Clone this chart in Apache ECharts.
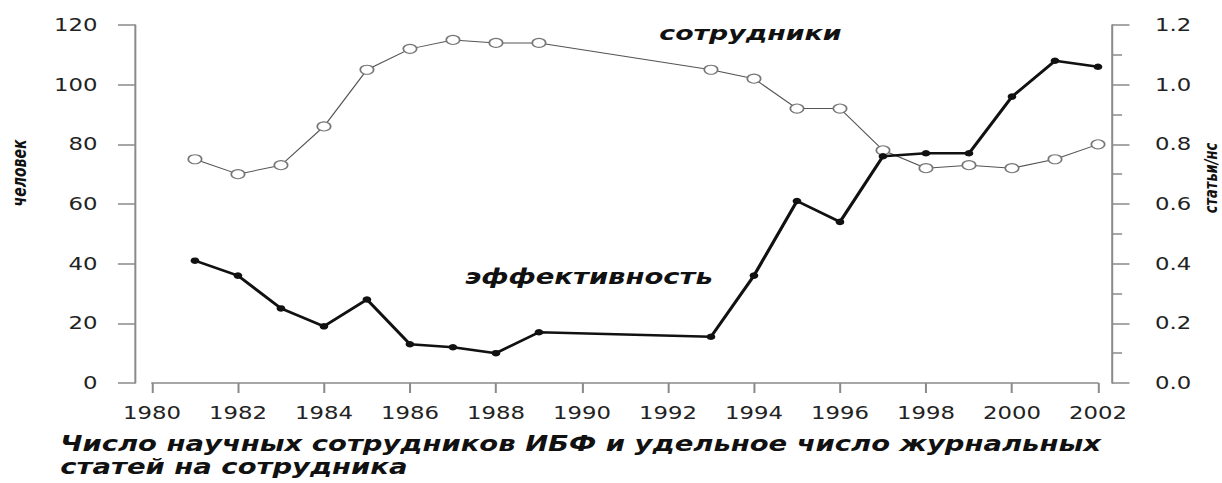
<!DOCTYPE html>
<html>
<head>
<meta charset="utf-8">
<script src="https://cdn.jsdelivr.net/npm/echarts@6/dist/echarts.min.js"></script>
<style>
  html, body { margin: 0; padding: 0; background: #fff; overflow: hidden; }
  /* the original picture is stretched sideways, so the chart is drawn narrow and scaled */
  #chart { width: 912px; height: 483px; transform: scaleX(1.34); transform-origin: 0 0; }
</style>
</head>
<body>
<div id="chart"></div>
<script>
// data
const years = [1981, 1982, 1983, 1984, 1985, 1986, 1987, 1988, 1989, 1993, 1994, 1995, 1996, 1997, 1998, 1999, 2000, 2001, 2002];
const staff = [75, 70, 73, 86, 105, 112, 115, 114, 114, 105, 102, 92, 92, 78, 72, 73, 72, 75, 80];
const efficiency = [0.41, 0.36, 0.25, 0.19, 0.28, 0.13, 0.12, 0.10, 0.17, 0.155, 0.36, 0.61, 0.54, 0.76, 0.77, 0.77, 0.96, 1.08, 1.06];

const staffLabel = 'сотрудники';
const effLabel = 'эффективность';
const leftName = 'человек';
const rightName = 'статьи/нс';
const caption1 = 'Число научных сотрудников ИБФ и удельное число журнальных';
const caption2 = 'статей на сотрудника';

const staffData = years.map((y, i) => [y, staff[i]]);
const effData = years.map((y, i) => [y, efficiency[i]]);

const axisGray = '#8a8a8a';
const labelFont = { fontFamily: 'DejaVu Sans', fontSize: 17, color: '#222' };
const italicBold = { fontFamily: 'DejaVu Sans', fontStyle: 'italic', fontWeight: 'bold', fill: '#111' };

const chart = echarts.init(document.getElementById('chart'), null, { renderer: 'svg' });

chart.setOption({
    animation: false,
    grid: { left: 113.4, right: 92.6, top: 25, bottom: 100 },
    xAxis: {
        type: 'value',
        min: 1980,
        max: 2002,
        interval: 2,
        axisLine: { show: true, lineStyle: { color: axisGray, width: 1.5 } },
        axisTick: { show: true, inside: false, length: 10, lineStyle: { color: axisGray, width: 1.5 } },
        axisLabel: { margin: 22, formatter: v => String(v), ...labelFont },
        splitLine: { show: false }
    },
    yAxis: [
        {
            type: 'value',
            position: 'left',
            offset: 12.7,
            min: 0,
            max: 120,
            interval: 20,
            axisLine: { show: true, lineStyle: { color: axisGray, width: 1.5 } },
            axisTick: { show: true, length: 12.7, lineStyle: { color: axisGray, width: 1.5 } },
            axisLabel: { margin: 28, ...labelFont },
            splitLine: { show: false }
        },
        {
            type: 'value',
            position: 'right',
            offset: 10.5,
            min: 0,
            max: 1.2,
            interval: 0.2,
            axisLine: { show: true, lineStyle: { color: axisGray, width: 1.5 } },
            axisTick: { show: true, length: 13, lineStyle: { color: axisGray, width: 1.5 } },
            minorTick: { show: true, splitNumber: 2, length: 7.5, lineStyle: { color: axisGray, width: 1.5 } },
            axisLabel: { margin: 32, formatter: v => v.toFixed(1), ...labelFont },
            splitLine: { show: false }
        }
    ],
    series: [
        {
            name: staffLabel,
            type: 'line',
            yAxisIndex: 0,
            data: staffData,
            symbol: 'circle',
            symbolSize: [10, 9],
            lineStyle: { color: '#555', width: 1 },
            itemStyle: { color: '#fff', borderColor: '#777', borderWidth: 1.2 }
        },
        {
            name: effLabel,
            type: 'line',
            yAxisIndex: 1,
            data: effData,
            symbol: 'circle',
            symbolSize: 6.5,
            lineStyle: { color: '#111', width: 2.5 },
            itemStyle: { color: '#111' }
        }
    ],
    graphic: [
        { type: 'text', x: 492, y: 33, style: { text: staffLabel, fontSize: 20, textVerticalAlign: 'middle', ...italicBold } },
        { type: 'text', x: 347, y: 277, style: { text: effLabel, fontSize: 20.5, textVerticalAlign: 'middle', ...italicBold } },
        { type: 'text', x: 15, y: 173, rotation: Math.PI / 2, style: { text: leftName, fontSize: 14, textAlign: 'center', textVerticalAlign: 'middle', ...italicBold } },
        { type: 'text', x: 904, y: 178, rotation: Math.PI / 2, style: { text: rightName, fontSize: 13, textAlign: 'center', textVerticalAlign: 'middle', ...italicBold } },
        { type: 'text', x: 45, y: 444, style: { text: caption1, fontSize: 20.5, textVerticalAlign: 'middle', ...italicBold } },
        { type: 'text', x: 45, y: 467, style: { text: caption2, fontSize: 20.5, textVerticalAlign: 'middle', ...italicBold } }
    ]
});
</script>
</body>
</html>
